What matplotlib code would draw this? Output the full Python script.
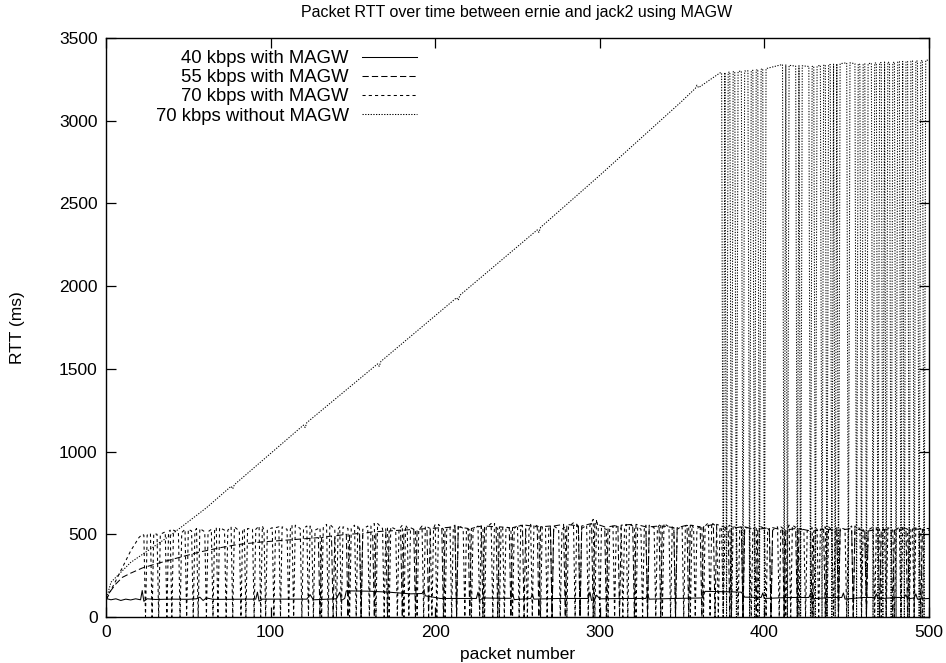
import matplotlib
matplotlib.use("Agg")
import matplotlib.pyplot as plt

plt.rcParams["font.family"] = ["Liberation Sans", "DejaVu Sans"]

# ---- 40 kbps with MAGW: flat RTT with occasional small bumps ----
pkt40 = [0, 3, 6, 9, 12, 15, 18, 21, 22, 23, 25, 30, 40, 50, 55, 57, 59, 61, 65,
         75, 85, 91, 92, 93, 95, 110, 122, 124, 126, 135, 140, 142, 143, 145, 146,
         160, 172, 185, 192, 193, 194, 200, 203, 215, 225, 226, 227, 229, 240, 246,
         247, 248, 258, 259, 260, 275, 290, 293, 294, 295, 297, 298, 300, 315, 328,
         329, 330, 345, 362, 364, 380, 386, 388, 398, 399, 400, 415, 427, 428, 429,
         440, 447, 448, 449, 460, 467, 468, 469, 480, 485, 486, 487, 491, 492, 493, 500]
rtt40 = [112, 104, 110, 100, 108, 103, 110, 104, 160, 95, 110, 106, 108, 107, 110, 120, 100, 115, 107,
         107, 108, 108, 150, 96, 108, 108, 108, 135, 104, 108, 110, 150, 100, 112, 158,
         156, 150, 140, 142, 160, 128, 118, 112, 112, 112, 150, 100, 115, 113, 113,
         140, 105, 112, 135, 108, 112, 112, 112, 150, 100, 108, 132, 110, 112, 112,
         140, 108, 112, 115, 155, 152, 150, 120, 118, 145, 112, 118, 118, 140, 110,
         118, 118, 145, 108, 118, 118, 140, 110, 118, 118, 135, 110, 115, 140, 108, 112]

# ---- 55 kbps with MAGW: slow climb, then lost packets (RTT 0) ----
lead55_pkt = [0, 3, 6, 10, 15, 22, 30, 40, 57, 70, 80, 94, 110, 126]
lead55_rtt = [100, 160, 200, 240, 265, 296, 320, 348, 393, 420, 438, 453, 465, 477]
loss55_pkt = [130, 138, 147, 155, 163, 171, 180, 188, 196, 205,
              213, 221, 229, 238, 246, 254, 263, 271, 279, 288,
              296, 304, 312, 321, 329, 337, 346, 354, 362, 370,
              379, 387, 395, 404, 412, 420, 429, 437, 445, 454,
              462, 470, 478, 487, 495]
loss55_rtt = [480, 490, 500, 505, 515, 520, 525, 530, 535, 540,
              545, 535, 550, 545, 540, 555, 545, 550, 560, 550,
              565, 545, 555, 560, 545, 550, 540, 555, 545, 560,
              535, 545, 530, 540, 525, 535, 520, 530, 525, 535,
              520, 530, 525, 535, 530]
end55 = (500, 525)

# ---- 70 kbps with MAGW: quick climb, frequent losses ----
lead70_pkt = [0, 5, 10, 15, 20, 22]
lead70_rtt = [110, 200, 300, 400, 480, 500]
loss70_pkt = [24, 28, 32, 37, 40, 45, 49, 53, 56, 61,
              65, 68, 73, 77, 82, 85, 90, 94, 97, 102,
              106, 111, 114, 119, 123, 126, 131, 135, 140, 143,
              148, 152, 155, 160, 164, 169, 172, 177, 181, 184,
              189, 193, 198, 201, 206, 210, 213, 218, 222, 227,
              230, 235, 239, 242, 247, 251, 256, 259, 264, 268,
              271, 276, 280, 285, 288, 293, 297, 300, 305, 309,
              314, 317, 322, 326, 329, 334, 338, 343, 346, 351,
              355, 358, 363, 367, 372, 375, 380, 384, 387, 392,
              396, 401, 404, 409, 413, 416, 421, 425, 430, 433,
              438, 442, 445, 450, 454, 459, 462, 467, 471, 474,
              479, 483, 488, 491, 496]
loss70_rtt = [495, 505, 500, 515, 525, 510, 530, 520, 535, 515,
              530, 540, 525, 545, 520, 535, 530, 550, 525, 540,
              545, 530, 555, 535, 550, 525, 540, 560, 530, 545,
              535, 555, 530, 550, 565, 535, 545, 530, 555, 540,
              525, 550, 535, 560, 530, 545, 555, 535, 525, 550,
              540, 565, 530, 545, 535, 555, 530, 560, 545, 535,
              550, 530, 545, 570, 535, 555, 590, 540, 530, 550,
              535, 560, 545, 530, 555, 540, 565, 545, 530, 550,
              555, 535, 550, 570, 545, 530, 555, 535, 545, 530,
              550, 535, 525, 545, 530, 555, 535, 520, 540, 530,
              545, 525, 540, 530, 550, 535, 525, 545, 530, 540,
              525, 545, 530, 540, 535]
end70 = (500, 535)

# ---- 70 kbps without MAGW: RTT keeps growing, then saturates with losses ----
ramp_pkt = [0, 3, 15, 40, 61, 76, 77, 78, 120, 121, 122, 165, 166, 167,
            213, 214, 215, 262, 263, 264, 300, 349, 358, 359, 360, 373]
ramp_rtt = [100, 210, 330, 500, 660, 790, 775, 800, 1160, 1145, 1175, 1530, 1515, 1545,
            1930, 1915, 1945, 2340, 2325, 2355, 2670, 3110, 3195, 3215, 3200, 3289]
loss_wo_pkt = [375, 377, 380, 383, 387, 391, 394, 397, 400, 412,
               414, 420, 422, 428, 431, 435, 438, 441, 443, 445,
               451, 456, 459, 462, 466, 469, 472, 474, 477, 480,
               483, 485, 488, 491, 494, 497]
loss_wo_rtt = [3290, 3292, 3295, 3298, 3300, 3302, 3305, 3310, 3315, 3340,
               3335, 3330, 3332, 3328, 3330, 3335, 3338, 3340, 3342, 3345,
               3350, 3345, 3340, 3345, 3348, 3350, 3352, 3355, 3350, 3355,
               3358, 3355, 3360, 3362, 3360, 3365]
end_wo = (500, 3367)

labels = ["40 kbps with MAGW", "55 kbps with MAGW",
          "70 kbps with MAGW", "70 kbps without MAGW"]
xticks = [0, 100, 200, 300, 400, 500]
yticks = [0, 500, 1000, 1500, 2000, 2500, 3000, 3500]


def series_with_losses(lead_x, lead_y, loss_x, loss_y, end):
    """Polyline: lead-in points, then a drop to 0 at every lost packet."""
    xs, ys = list(lead_x), list(lead_y)
    for k, h in zip(loss_x, loss_y):
        xs += [k - 1, k, k + 1]
        ys += [h, 0, h]
    xs.append(end[0])
    ys.append(end[1])
    return xs, ys


x55, y55 = series_with_losses(lead55_pkt, lead55_rtt, loss55_pkt, loss55_rtt, end55)
x70, y70 = series_with_losses(lead70_pkt, lead70_rtt, loss70_pkt, loss70_rtt, end70)
xwo, ywo = series_with_losses(ramp_pkt, ramp_rtt, loss_wo_pkt, loss_wo_rtt, end_wo)

fig = plt.figure(figsize=(9.46, 6.63), dpi=100)
ax = fig.add_axes([106 / 946, 1 - 617 / 663, 823 / 946, 579 / 663])

lw = 0.75
ax.plot(pkt40, rtt40, color="black", lw=lw, linestyle="-", label=labels[0])
ax.plot(x55, y55, color="black", lw=lw, linestyle=(0, (6, 3)), label=labels[1])
ax.plot(x70, y70, color="black", lw=lw, linestyle=(0, (3, 3)), label=labels[2])
ax.plot(xwo, ywo, color="black", lw=lw, linestyle=(0, (1.2, 1.4)), label=labels[3])

ax.set_xlim(0, 500)
ax.set_ylim(0, 3500)
ax.set_xticks(xticks)
ax.set_yticks(yticks)
ax.tick_params(direction="in", top=True, right=True, length=7, width=0.9,
               labelsize=12.5, pad=6)
for sp in ax.spines.values():
    sp.set_linewidth(1.0)

ax.set_xlabel("packet number", fontsize=12.5, va="center")
ax.xaxis.set_label_coords(0.5, -(655 - 617) / 579)
ax.set_ylabel("RTT (ms)", fontsize=12.5, va="center")
ax.yaxis.set_label_coords(-(106 - 18) / 823, 0.5)

fig.text(517 / 946, 1 - 13 / 663, "Packet RTT over time between ernie and jack2 using MAGW",
         ha="center", va="center", fontsize=11.5)

ax.legend(loc="upper right", bbox_to_anchor=((417 - 106) / 823, (617 - 50) / 579),
          frameon=False, markerfirst=False, fontsize=13.3, handlelength=3.0,
          handletextpad=0.7, labelspacing=0.12, borderpad=0, borderaxespad=0)

fig.savefig("out.png", dpi=100)
